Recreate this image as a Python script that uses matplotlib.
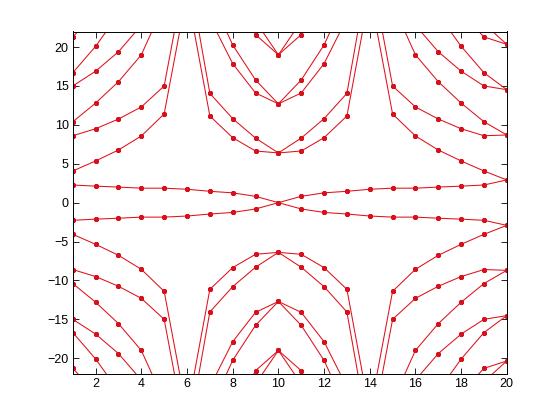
import numpy as np
import matplotlib
matplotlib.use('Agg')
import matplotlib.pyplot as plt

x = list(range(1, 21))

# upper branches (sorted), the lower half of the chart is the mirror image
b0 = [2.27, 2.12, 2.00, 1.86, 1.86, 1.72, 1.46, 1.26, 0.81, 0.0,
      0.81, 1.26, 1.46, 1.72, 1.86, 1.86, 2.00, 2.12, 2.27, 2.92]
b1 = [4.07, 5.36, 6.77, 8.57, 11.4, 27.0, 11.14, 8.35, 6.64, 6.39,
      6.64, 8.35, 11.14, 27.0, 11.4, 8.57, 6.77, 5.36, 4.07, 2.92]
b2 = [8.6, 9.5, 10.75, 12.3, 15.0, 30.6, 14.05, 10.8, 8.3, 6.39,
      8.3, 10.8, 14.05, 30.6, 15.0, 12.3, 10.75, 9.5, 8.6, 8.7]
b3 = [10.4, 12.8, 15.55, 19.0, 25.5, 56.0, 23.7, 17.87, 14.1, 12.7,
      14.1, 17.87, 23.7, 56.0, 25.5, 19.0, 15.55, 12.8, 10.4, 8.7]
b4 = [15.0, 16.9, 19.4, 22.8, 28.3, 59.5, 26.7, 20.27, 15.77, 12.7,
      15.77, 20.27, 26.7, 59.5, 28.3, 22.8, 19.4, 16.9, 15.0, 14.52]
b5 = [16.7, 20.1, 24.2, 29.5, 37.7, 85.0, 36.3, 27.2, 21.6, 19.0,
      21.6, 27.2, 36.3, 85.0, 37.7, 29.5, 24.2, 20.1, 16.7, 14.52]
b6 = [21.3, 24.4, 28.3, 33.2, 41.5, 88.0, 39.3, 29.8, 23.3, 19.0,
      23.3, 29.8, 39.3, 88.0, 41.5, 33.2, 28.3, 24.4, 21.3, 20.35]
b7 = [23.0, 27.5, 33.0, 40.0, 51.0, 114.0, 49.0, 37.0, 29.0, 25.3,
      29.0, 37.0, 49.0, 114.0, 51.0, 40.0, 33.0, 27.5, 23.0, 20.35]

xticks = [2, 4, 6, 8, 10, 12, 14, 16, 18, 20]
yticks = [-20, -15, -10, -5, 0, 5, 10, 15, 20]

plt.rcParams['font.family'] = ['Liberation Sans', 'DejaVu Sans']

fig = plt.figure(figsize=(5.6, 4.2), dpi=100)
ax = fig.add_axes([0.13, 0.11, 0.775, 0.815])

for b in [b0, b1, b2, b3, b4, b5, b6, b7]:
    v = np.array(b)
    for s in (v, -v):
        ax.plot(x, s, '-', color='#e0101a', lw=0.75, marker=(8, 2, 0), markersize=3.6,
                mec='#d8101c', mew=1.0)

ax.set_xlim(1, 20)
ax.set_ylim(-22, 22)
ax.set_xticks(xticks)
ax.set_yticks(yticks)
ax.tick_params(direction='in', length=4, width=0.6, top=True, right=True,
               labelsize=9, pad=3)
for sp in ax.spines.values():
    sp.set_linewidth(0.7)

fig.savefig('out.png', dpi=100)
